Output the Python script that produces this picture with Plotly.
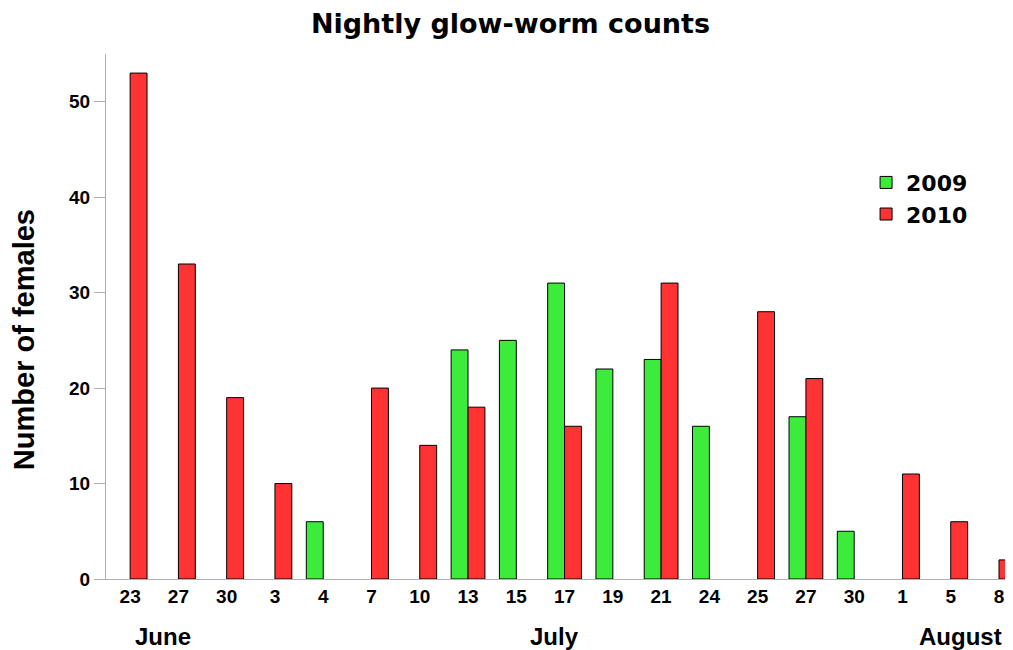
import plotly.graph_objects as go

days = ["23", "27", "30", "3", "4", "7", "10", "13", "15", "17", "19", "21",
        "24", "25", "27", "30", "1", "5", "8"]
months = ["June", "June", "June", "July", "July", "July", "July", "July", "July",
          "July", "July", "July", "July", "July", "July", "July", "August",
          "August", "August"]
counts_2009 = [None, None, None, None, 6, None, None, 24, 25, 31, 22, 23,
               16, None, 17, 5, None, None, None]
counts_2010 = [53, 33, 19, 10, None, 20, 14, 18, None, 16, None, 31,
               None, 28, 21, None, 11, 6, 2]
month_labels = ["June", "July", "August"]
month_label_pos = [0.68, 8.8, 17.2]

idx = list(range(len(days)))
FONT = "Liberation Sans, Arial, sans-serif"
WIDE = "DejaVu Sans, Liberation Sans, sans-serif"

fig = go.Figure()
fig.add_trace(go.Bar(x=idx, y=counts_2009, name="<b>2009</b>",
                     marker=dict(color="#3deb3d", line=dict(color="#000000", width=1))))
fig.add_trace(go.Bar(x=idx, y=counts_2010, name="<b>2010</b>",
                     marker=dict(color="#ff3333", line=dict(color="#000000", width=1))))

for lab, pos in zip(month_labels, month_label_pos):
    fig.add_annotation(x=pos, y=0, xref="x", yref="paper", text="<b>" + lab + "</b>",
                       showarrow=False, yshift=-73, font=dict(size=24, color="black", family=FONT))

# y-axis title
fig.add_annotation(x=0, y=0.455, xref="paper", yref="paper", text="<b>Number of females</b>",
                   textangle=-90, showarrow=False, xanchor="center", yanchor="middle",
                   xshift=-82, borderpad=0, font=dict(size=29, color="black", family=FONT))

# page body has an 8px margin, so the figure is sized/offset to compensate
fig.update_layout(
    width=1005, height=642,
    barmode="group", bargap=0.3, bargroupgap=0,
    plot_bgcolor="white", paper_bgcolor="white",
    font=dict(family=FONT, color="black"),
    title=dict(text="<b>Nightly glow-worm counts</b>", x=0.5, xanchor="center",
               y=1 - 16 / 642, yanchor="middle", font=dict(size=27, family=WIDE)),
    margin=dict(l=98, r=0, t=46, b=71, pad=0),
    legend=dict(x=0.838, y=0.795, xanchor="left", yanchor="top",
                font=dict(size=22, family=WIDE), bgcolor="rgba(0,0,0,0)",
                tracegroupgap=0, itemwidth=30),
    xaxis=dict(range=[-0.5, 18.29], tickmode="array", tickvals=idx,
               ticktext=["<b>" + d + "</b>" for d in days], ticks="",
               showline=True, linecolor="#b0b0b0", linewidth=1, showgrid=False,
               zeroline=False, tickfont=dict(size=19, family=FONT)),
    yaxis=dict(range=[0, 55], tickvals=[0, 10, 20, 30, 40, 50],
               ticktext=["<b>%d</b>" % v for v in [0, 10, 20, 30, 40, 50]],
               ticks="outside", ticklen=11, tickcolor="#b0b0b0",
               showline=True, linecolor="#b0b0b0", linewidth=1, showgrid=False,
               zeroline=False, tickfont=dict(size=19, family=FONT)),
)

fig.write_html("out.html")
